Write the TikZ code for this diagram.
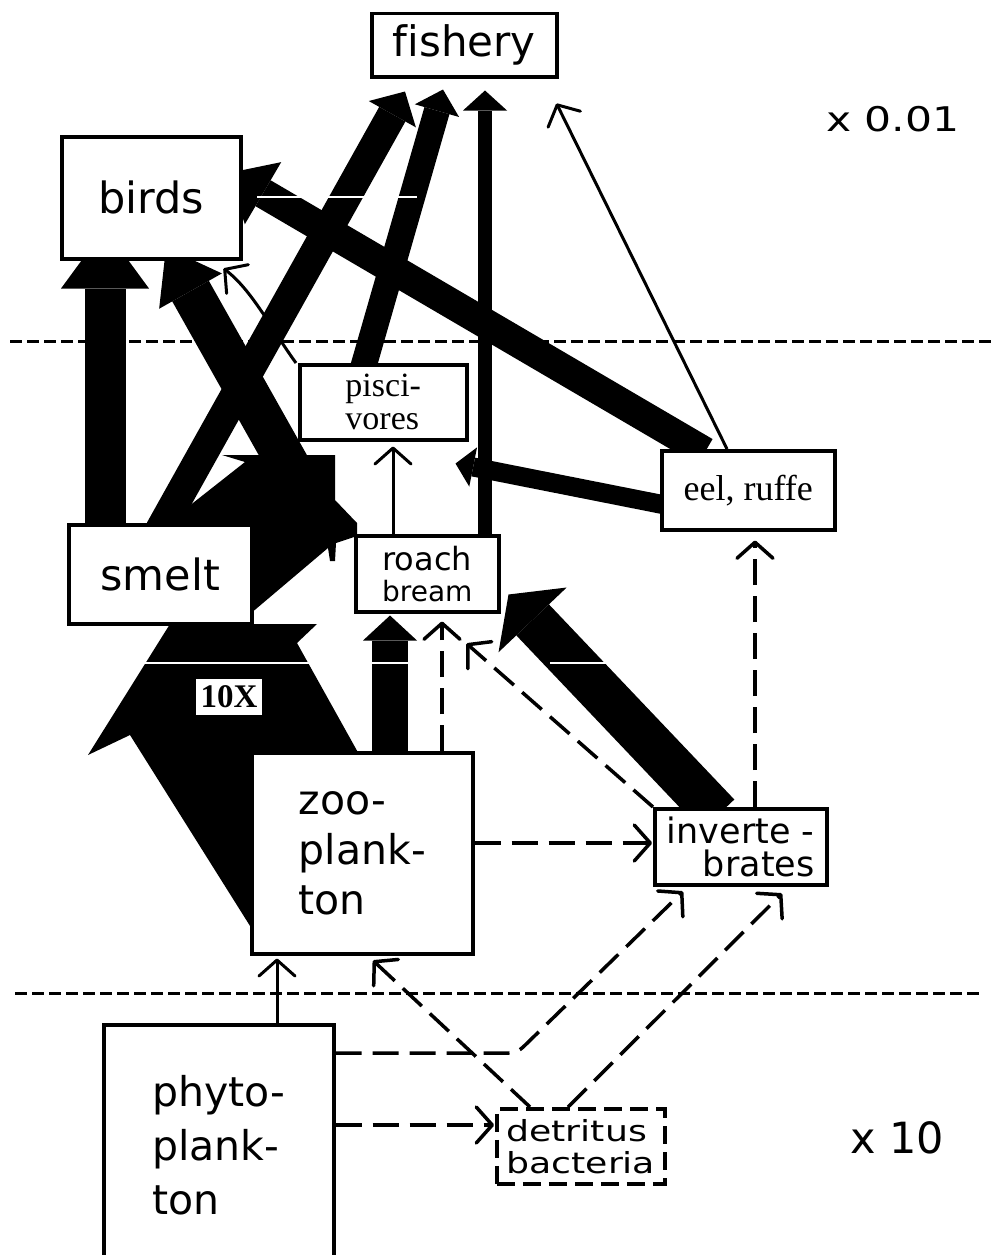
\documentclass[tikz,border=0pt]{standalone}
\usepackage{fontspec}
\setmainfont{DejaVu Sans}[Ligatures=NoCommon]
\newfontfamily\serifx{Liberation Serif}
\newfontfamily\widesans[FakeStretch=1.25,Ligatures=NoCommon]{DejaVu Sans}
\usetikzlibrary{arrows.meta,calc}
\pgfdeclarelayer{back}
\pgfsetlayers{back,main}
\begin{document}
\begin{tikzpicture}[x=1pt,y=-1pt,
  box/.style={draw,line width=3.5pt,fill=white,inner sep=0pt,anchor=north west},
  fatarr/.style n args={3}{draw=black,line width=#1,-{Triangle[length=#2,width=#3,line width=0pt]}},
  thinarr/.style={line width=3pt,-{Straight Barb[length=16pt,width=36pt,round]}},
  dasharr/.style={thinarr,line width=3.5pt,dash pattern=on 26pt off 11pt},
  divider/.style={line width=3pt,dash pattern=on 12pt off 5pt},
  seam/.style={white,line width=1.2pt},
  scalelabel/.style={anchor=base west,inner sep=0pt}
]
\useasboundingbox (0,0) rectangle (995,1255);

% boxes
\node[box,minimum width=185pt,minimum height=63pt,font=\fontsize{42}{50}\selectfont] (fishery) at (370,12) {fishery};
\node[box,minimum width=179pt,minimum height=122pt,font=\fontsize{43}{50}\selectfont] (birds) at (60,135) {birds};
\node[box,minimum width=183pt,minimum height=99pt,font=\fontsize{43}{50}\selectfont] (smelt) at (67,523) {smelt};
\node[box,minimum width=167pt,minimum height=75pt,align=left,font=\serifx\fontsize{34}{33}\selectfont] (pisc) at (298,363) {pisci-\\vores};
\node[box,minimum width=143pt,minimum height=76pt,align=center,font=\fontsize{28}{31}\selectfont] (roach) at (354,534) {{\fontsize{32}{31}\selectfont roach}\\bream};
\node[box,minimum width=173pt,minimum height=79pt,font=\serifx\fontsize{36}{36}\selectfont] (eel) at (660,449) {eel, ruffe};
\node[box,minimum width=172pt,minimum height=76pt,align=right,font=\fontsize{35}{33}\selectfont] (inv) at (653,807) {inverte -\\brates};
\node[box,minimum width=221pt,minimum height=201pt,align=left,font=\fontsize{41}{50}\selectfont] (zoo) at (250,751) {zoo-\\plank-\\ton};
\node[box,minimum width=230pt,minimum height=240pt,align=left,font=\fontsize{41}{54}\selectfont] (phyto) at (102,1023) {phyto-\\plank-\\ton};
\node[box,dash pattern=on 18pt off 8pt,minimum width=168pt,minimum height=75pt,align=left,font=\widesans\fontsize{29}{32}\selectfont] (detr) at (495,1107) {detritus\\bacteria};

% scale labels
\node[scalelabel,font=\widesans\fontsize{34}{34}\selectfont] (ftop) at (826,131) {x 0.01};
\node[scalelabel,font=\fontsize{43}{43}\selectfont] (fbot) at (850,1153) {x 10};

\coordinate (bend) at (517,1053);

\begin{pgfonlayer}{back}
% trophic level dividers
\draw[divider] (10,341) -- (995,341);
\draw[divider] (15,993) -- (980,993);

\begin{scope}[shift={(smelt.north west)}]
% zooplankton -> smelt (10X, compressed)
\fill (103,101) -- (250,101) -- (230,120) -- (298,242) -- (195,422) -- (63,212) -- (21,232) -- cycle;
% smelt -> piscivores
\fill (79,17) -- (178,-61) -- (155,-68) -- (268,-68) -- (268,-23) -- (290,0) -- (290,13) -- (269,20) -- (268,38) -- (263,38) -- (261,25) -- (183,91) -- (133,67) -- cycle;
\end{scope}

% fat flows
\draw[fatarr={41pt}{60pt}{88pt}] ($(smelt.north west)+(38,0)$) -- ($(birds.south west)+(45,-32)$);
\draw[fatarr={30pt}{26pt}{54pt}] ($(smelt.north west)+(93,7)$) -- ($(fishery.south west)+(35,13)$);
\draw[fatarr={26pt}{22pt}{46pt}] ($(pisc.north west)+(65,5)$) -- ($(fishery.south west)+(73,11)$);
\draw[fatarr={14pt}{20pt}{44pt}] ($(roach.north west)+(131,6)$) -- ($(fishery.south west)+(115,12)$);
\draw[fatarr={42pt}{50pt}{72pt}] ($(roach.north west)+(-29,-4)$) -- ($(birds.south west)+(106,-13)$);
\draw[fatarr={30pt}{40pt}{72pt}] ($(eel.north west)+(45,3)$) -- ($(birds.north east)+(-14,38)$);
\draw[fatarr={19pt}{18pt}{40pt}] ($(eel.north west)+(5,56)$) -- ($(pisc.south east)+(-13,22)$);
\draw[fatarr={36pt}{25pt}{54pt}] ($(zoo.north west)+(140,9)$) -- ($(roach.south west)+(36,2)$);
\draw[fatarr={45pt}{35pt}{94pt}] ($(inv.north west)+(65,8)$) -- ($(roach.south east)+(8,-19)$);

% thin flows
\draw[thinarr] ($(roach.north west)+(39,0)$) -- ($(pisc.south west)+(95,5)$);
\draw[thinarr] ($(pisc.north west)+(-2,0)$) .. controls (272,330) and (252,290) .. ($(birds.south east)+(-19,8)$);
\draw[thinarr] ($(eel.north west)+(67,0)$) -- ($(fishery.south east)+(-2,25)$);
\draw[thinarr] ($(phyto.north west)+(175,0)$) -- ($(zoo.south west)+(27,3)$);

% dashed flows
\draw[dasharr] ($(zoo.north west)+(192,0)$) -- ($(roach.south west)+(88,8)$);
\draw[dasharr] (inv.north west) -- ($(roach.south east)+(-34,30)$);
\draw[dasharr] ($(inv.north west)+(102,0)$) -- ($(eel.south west)+(95,9)$);
\draw[dasharr] ($(zoo.north east)+(0,92)$) -- ($(inv.north west)+(-1,36)$);
\draw[dasharr] ($(detr.north west)+(35,0)$) -- ($(zoo.south west)+(123,5)$);
\draw[dasharr] ($(phyto.north east)+(0,102)$) -- ($(detr.north west)+(-1,18)$);
\draw[dasharr,rounded corners=8pt] ($(phyto.north east)+(0,30)$) -- (bend) -- ($(inv.south west)+(30,5)$);
\draw[dasharr] ($(detr.north west)+(73,0)$) -- ($(inv.south west)+(129,7)$);

% paste-up seams
\draw[seam] (140,663) -- (310,663);
\draw[seam] (372,663) -- (408,663);
\draw[seam] (550,663) -- (613,663);
\draw[seam] (257,197) -- (417,197);
\end{pgfonlayer}

\node[fill=white,inner sep=0pt,minimum width=66pt,minimum height=36pt,font=\serifx\bfseries\fontsize{33}{33}\selectfont] (tenx) at (229,697) {10X};
\end{tikzpicture}
\end{document}
